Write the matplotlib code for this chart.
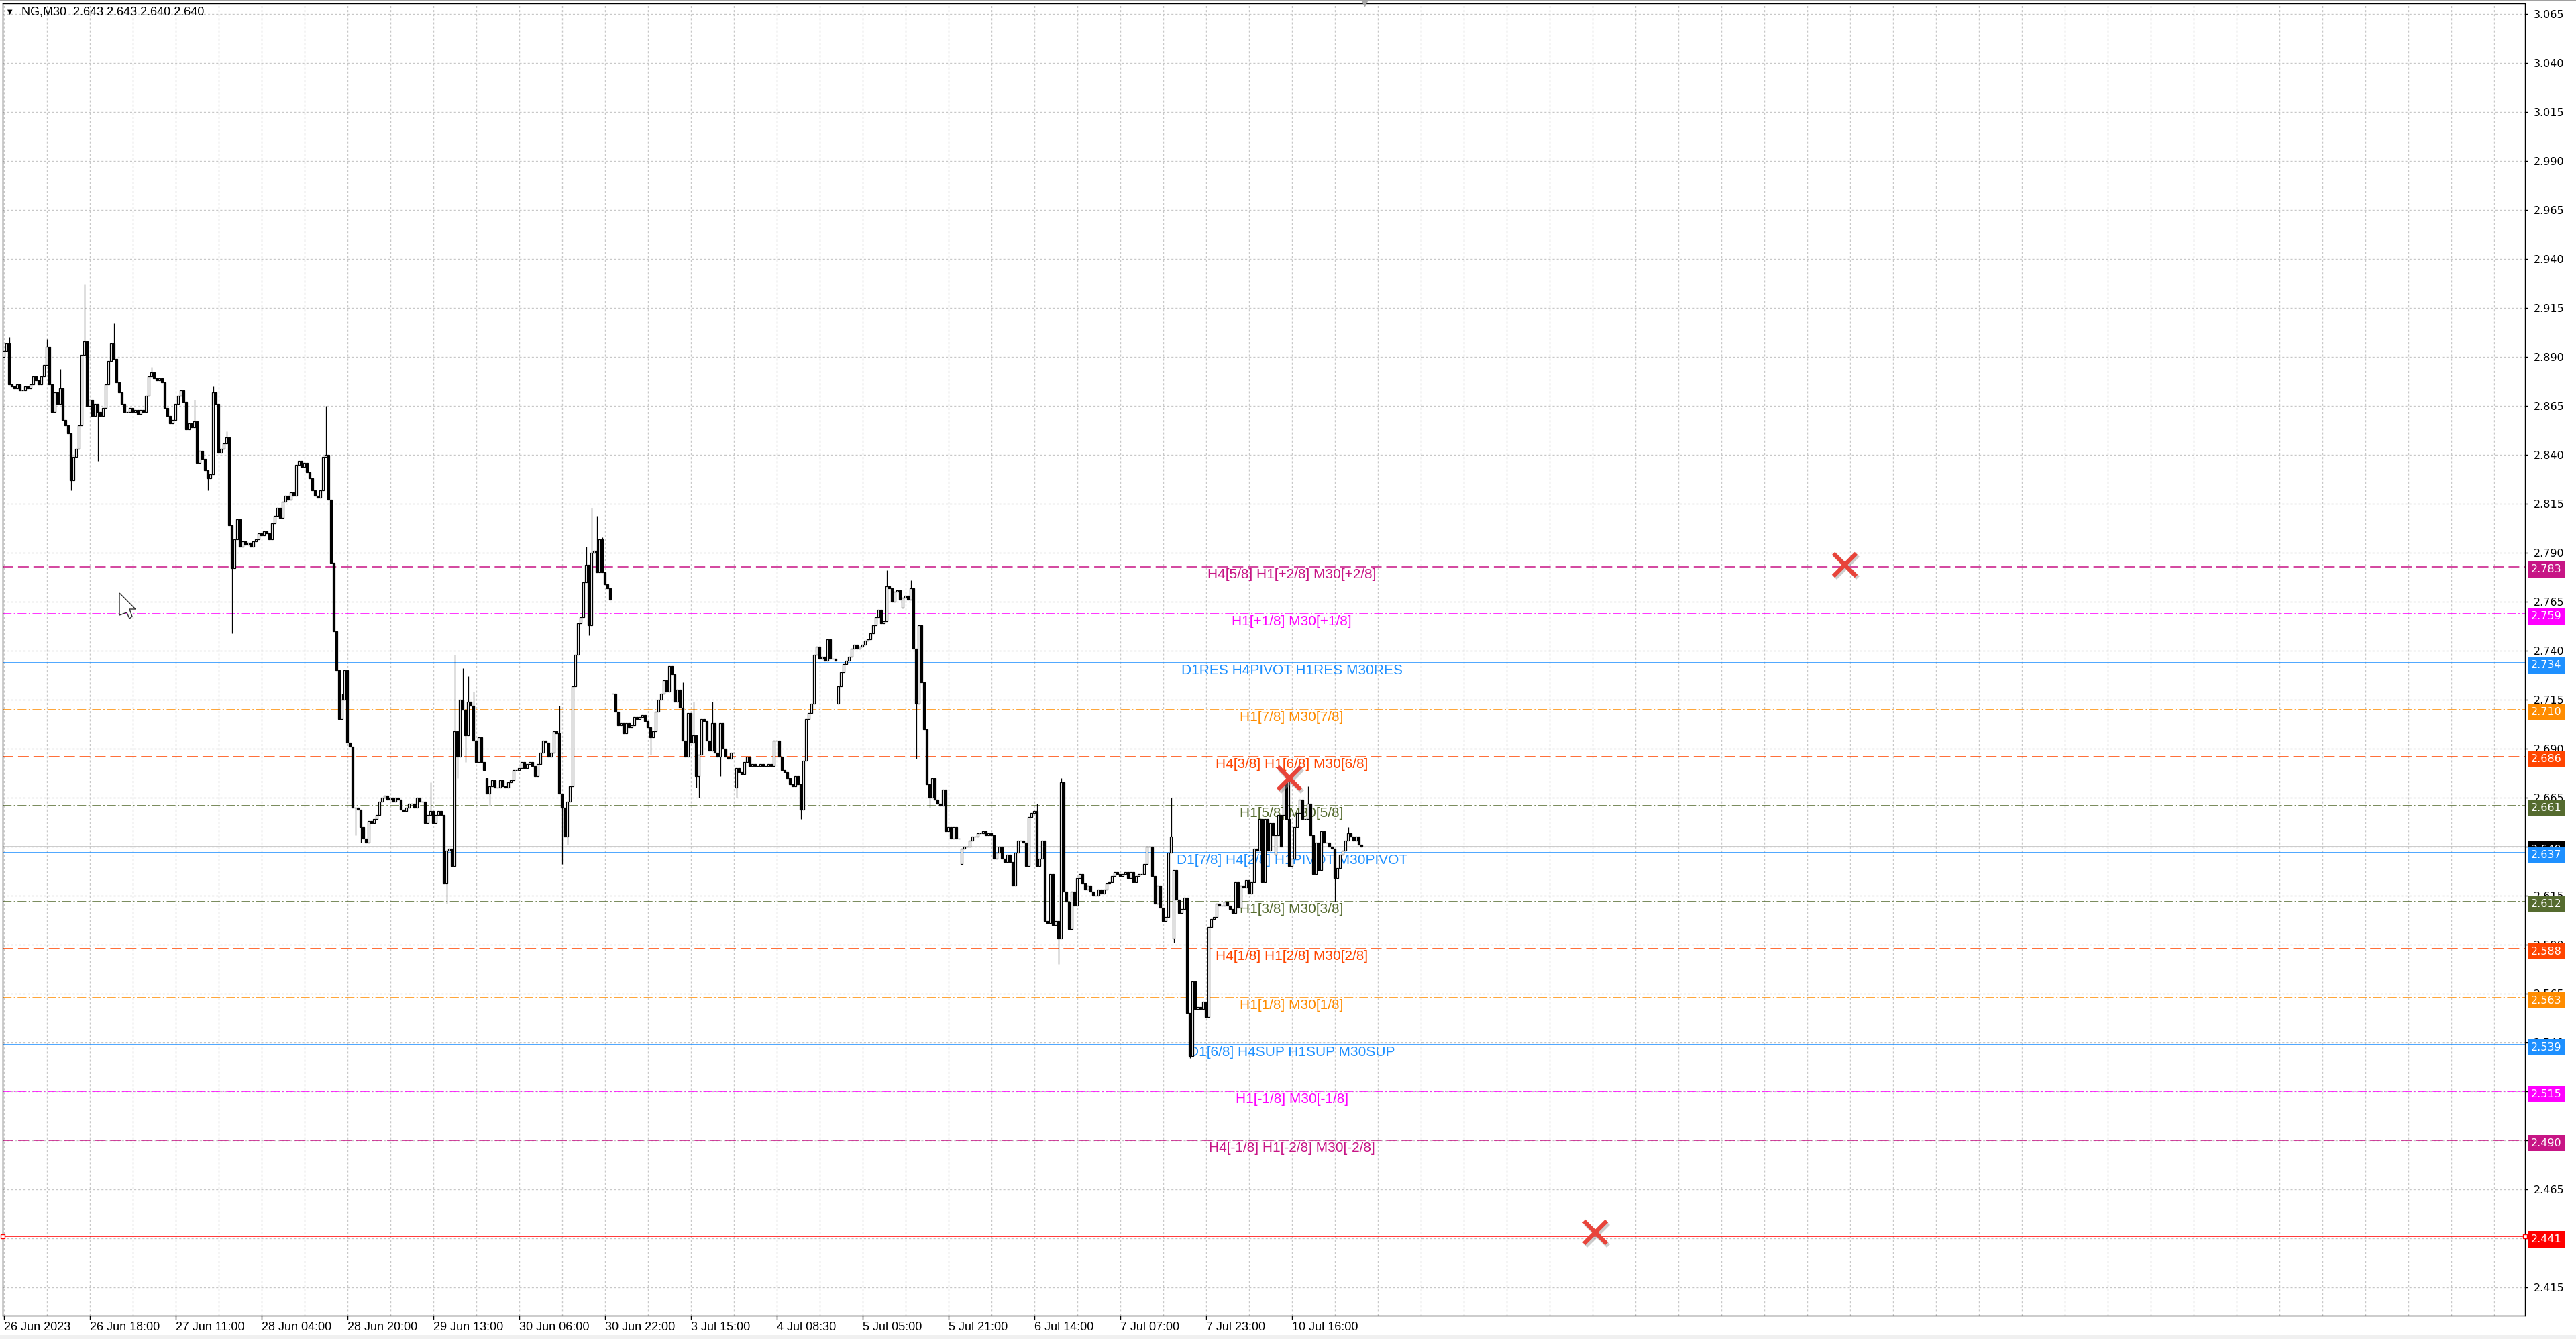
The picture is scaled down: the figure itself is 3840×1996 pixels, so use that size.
import matplotlib
matplotlib.use('Agg')
import matplotlib.pyplot as plt
import matplotlib.transforms as mtransforms
import numpy as np

plt.rcParams['font.family'] = ['Liberation Sans', 'DejaVu Sans']
plt.rcParams['lines.scale_dashes'] = False

symbol_title = 'NG,M30  2.643 2.643 2.640 2.640'

# M30 closes, one per bar
closes = [
    2.893, 2.897, 2.876, 2.875, 2.874, 2.876, 2.873, 2.873, 2.875, 2.874,
    2.876, 2.880, 2.878, 2.876, 2.880, 2.886, 2.895, 2.876, 2.862, 2.872,
    2.866, 2.874, 2.858, 2.855, 2.851, 2.827, 2.839, 2.843, 2.855, 2.891,
    2.898, 2.865, 2.868, 2.860, 2.866, 2.862, 2.860, 2.864, 2.876, 2.888,
    2.897, 2.889, 2.877, 2.872, 2.866, 2.862, 2.862, 2.864, 2.862, 2.863,
    2.861, 2.863, 2.862, 2.870, 2.880, 2.882, 2.879, 2.878, 2.879, 2.877,
    2.864, 2.860, 2.856, 2.858, 2.866, 2.870, 2.873, 2.867, 2.853, 2.856,
    2.854, 2.857, 2.836, 2.842, 2.838, 2.832, 2.828, 2.830, 2.872, 2.866,
    2.841, 2.843, 2.846, 2.849, 2.804, 2.782, 2.797, 2.807, 2.793, 2.796,
    2.794, 2.795, 2.793, 2.796, 2.797, 2.800, 2.799, 2.801, 2.800, 2.797,
    2.805, 2.809, 2.813, 2.808, 2.816, 2.819, 2.817, 2.821, 2.819, 2.835,
    2.837, 2.834, 2.836, 2.831, 2.828, 2.822, 2.819, 2.818, 2.822, 2.839,
    2.840, 2.817, 2.785, 2.750, 2.730, 2.705, 2.715, 2.730, 2.693, 2.691,
    2.660, 2.660, 2.659, 2.650, 2.644, 2.642, 2.653, 2.652, 2.654, 2.656,
    2.663, 2.665, 2.666, 2.664, 2.665, 2.663, 2.665, 2.664, 2.659, 2.658,
    2.660, 2.662, 2.662, 2.660, 2.665, 2.663, 2.663, 2.652, 2.656, 2.658,
    2.652, 2.656, 2.658, 2.656, 2.621, 2.638, 2.639, 2.630, 2.699, 2.686,
    2.715, 2.710, 2.697, 2.714, 2.712, 2.694, 2.683, 2.696, 2.683, 2.679,
    2.667, 2.671, 2.674, 2.670, 2.670, 2.674, 2.671, 2.670, 2.673, 2.674,
    2.679, 2.679, 2.680, 2.683, 2.680, 2.682, 2.683, 2.681, 2.676, 2.682,
    2.688, 2.694, 2.693, 2.686, 2.688, 2.699, 2.698, 2.667, 2.660, 2.645,
    2.663, 2.671, 2.722, 2.738, 2.754, 2.757, 2.775, 2.784, 2.753, 2.790,
    2.791, 2.780, 2.797, 2.780, 2.774, 2.772, 2.766, 2.718, 2.709, 2.702,
    2.703, 2.698, 2.703, 2.701, 2.702, 2.706, 2.705, 2.706, 2.707, 2.704,
    2.701, 2.696, 2.699, 2.709, 2.715, 2.718, 2.725, 2.719, 2.732, 2.728,
    2.714, 2.720, 2.711, 2.694, 2.686, 2.708, 2.693, 2.697, 2.676, 2.687,
    2.705, 2.704, 2.694, 2.689, 2.703, 2.688, 2.686, 2.703, 2.690, 2.686,
    2.685, 2.688, 2.688, 2.680, 2.678, 2.677, 2.683, 2.686, 2.681, 2.682,
    2.681, 2.681, 2.682, 2.681, 2.681, 2.682, 2.681, 2.694, 2.694, 2.686,
    2.679, 2.678, 2.675, 2.672, 2.671, 2.676, 2.672, 2.659, 2.684, 2.705,
    2.708, 2.713, 2.738, 2.742, 2.736, 2.737, 2.735, 2.746, 2.736, 2.736,
    2.735, 2.722, 2.729, 2.733, 2.735, 2.737, 2.741, 2.743, 2.741, 2.742,
    2.743, 2.745, 2.746, 2.749, 2.753, 2.757, 2.761, 2.754, 2.755, 2.773,
    2.772, 2.765, 2.770, 2.771, 2.766, 2.767, 2.768, 2.766, 2.772, 2.741,
    2.713, 2.753, 2.724, 2.700, 2.672, 2.665, 2.675, 2.664, 2.662, 2.661,
    2.669, 2.648, 2.650, 2.644, 2.650, 2.644, 2.644, 2.639, 2.640, 2.640,
    2.643, 2.645, 2.645, 2.647, 2.647, 2.648, 2.646, 2.647, 2.646, 2.634,
    2.637, 2.640, 2.634, 2.632, 2.636, 2.632, 2.620, 2.637, 2.643, 2.643,
    2.642, 2.630, 2.655, 2.657, 2.658, 2.630, 2.634, 2.643, 2.602, 2.601,
    2.626, 2.600, 2.602, 2.593, 2.673, 2.617, 2.612, 2.598, 2.617, 2.610,
    2.624, 2.626, 2.621, 2.618, 2.620, 2.617, 2.615, 2.615, 2.618, 2.616,
    2.618, 2.621, 2.622, 2.625, 2.627, 2.626, 2.625, 2.626, 2.627, 2.624,
    2.627, 2.622, 2.625, 2.626, 2.626, 2.631, 2.640, 2.640, 2.625, 2.611,
    2.620, 2.609, 2.602, 2.604, 2.637, 2.645, 2.628, 2.613, 2.606, 2.608,
    2.614, 2.555, 2.533, 2.571, 2.557, 2.558, 2.557, 2.561, 2.553, 2.599,
    2.603, 2.604, 2.611, 2.610, 2.610, 2.612, 2.610, 2.608, 2.606, 2.622,
    2.609, 2.620, 2.619, 2.623, 2.616, 2.622, 2.639, 2.638, 2.654, 2.622,
    2.654, 2.638, 2.652, 2.646, 2.646, 2.656, 2.640, 2.673, 2.654, 2.630,
    2.634, 2.650, 2.657, 2.664, 2.654, 2.654, 2.662, 2.646, 2.626, 2.642,
    2.628, 2.648, 2.642, 2.642, 2.640, 2.639, 2.624, 2.629, 2.636, 2.638,
    2.643, 2.647, 2.645, 2.643, 2.645, 2.641, 2.640,
]

# bars whose open is not the previous close (price gaps)
open_gaps = {0: 2.890, 180: 2.675, 227: 2.718, 273: 2.670, 311: 2.713,
             335: 2.762, 357: 2.631, 436: 2.593, 474: 2.636, 477: 2.656}

# wicks that stick out of the body
wick_highs = {2: 2.900, 16: 2.899, 21: 2.884, 30: 2.927, 41: 2.907, 55: 2.885,
              71: 2.868, 78: 2.875, 83: 2.852, 120: 2.865, 126: 2.718, 159: 2.673,
              168: 2.738, 171: 2.731, 173: 2.727, 175: 2.719, 207: 2.712, 217: 2.793,
              219: 2.813, 221: 2.809, 223: 2.798, 253: 2.724, 257: 2.714, 264: 2.714,
              329: 2.781, 338: 2.776, 385: 2.662, 394: 2.675, 435: 2.665, 479: 2.674,
              486: 2.671, 501: 2.650}
wick_lows = {25: 2.822, 35: 2.837, 76: 2.822, 85: 2.749, 131: 2.646, 133: 2.642,
             165: 2.611, 169: 2.675, 172: 2.683, 181: 2.661, 208: 2.631, 210: 2.641,
             218: 2.748, 241: 2.687, 258: 2.670, 259: 2.665, 267: 2.676, 273: 2.665,
             297: 2.654, 340: 2.685, 345: 2.660, 393: 2.580, 436: 2.591, 442: 2.532,
             496: 2.612}

time_labels = ['26 Jun 2023', '26 Jun 18:00', '27 Jun 11:00', '28 Jun 04:00',
               '28 Jun 20:00', '29 Jun 13:00', '30 Jun 06:00', '30 Jun 22:00',
               '3 Jul 15:00', '4 Jul 08:30', '5 Jul 05:00', '5 Jul 21:00',
               '6 Jul 14:00', '7 Jul 07:00', '7 Jul 23:00', '10 Jul 16:00']
bars_per_label = 32
bars_per_grid = 16

level_prices = [2.783, 2.759, 2.734, 2.710, 2.686, 2.661, 2.637,
                2.612, 2.588, 2.563, 2.539, 2.515, 2.490]
level_texts = ['H4[5/8] H1[+2/8] M30[+2/8]', 'H1[+1/8] M30[+1/8]',
               'D1RES H4PIVOT H1RES M30RES', 'H1[7/8] M30[7/8]',
               'H4[3/8] H1[6/8] M30[6/8]', 'H1[5/8] M30[5/8]',
               'D1[7/8] H4[2/8] H1PIVOT M30PIVOT', 'H1[3/8] M30[3/8]',
               'H4[1/8] H1[2/8] M30[2/8]', 'H1[1/8] M30[1/8]',
               'D1[6/8] H4SUP H1SUP M30SUP', 'H1[-1/8] M30[-1/8]',
               'H4[-1/8] H1[-2/8] M30[-2/8]']
level_colors = ['#C71585', '#FF00FF', '#1E90FF', '#FF8C00', '#FF4500', '#556B2F',
                '#1E90FF', '#556B2F', '#FF4500', '#FF8C00', '#1E90FF', '#FF00FF',
                '#C71585']
level_styles = ['dash', 'dashdot', 'solid', 'dashdot', 'dash', 'dashdot', 'solid',
                'dashdot', 'dash', 'dashdot', 'solid', 'dashdot', 'dash']
label_bar = 480

bid_price = 2.640
target_price = 2.441
cross_bars = [686, 479, 593]
cross_prices = [2.784, 2.675, 2.443]

y_min, y_max = 2.4006, 3.0707
tick_first, tick_last, tick_step = 2.415, 3.065, 0.025

DASHES = {'dash': (0, (11.5, 5)), 'dashdot': (0, (9.5, 2.5, 1.5, 2.5)), 'solid': '-'}

# mouse pointer left on the screenshot, in screen pixels
cursor_px = [(178, 884), (202, 908), (193, 908), (197, 919), (193, 922),
             (189, 913), (178, 917)]


def draw_candles(ax):
    n = len(closes)
    x = np.arange(n)
    c = np.array(closes)
    o = np.array([open_gaps.get(i, closes[i - 1] if i > 0 else closes[0]) for i in range(n)])
    hi = np.array([max(o[i], c[i], wick_highs.get(i, 0)) for i in range(n)])
    lo = np.array([min(o[i], c[i], wick_lows.get(i, 99)) for i in range(n)])
    ax.vlines(x, lo, hi, color='black', linewidth=0.9, zorder=3)
    up = c >= o
    bottom = np.minimum(o, c)
    height = np.abs(c - o)
    ax.bar(x[up], height[up], bottom=bottom[up], width=0.7, facecolor='white',
           edgecolor='black', linewidth=0.9, zorder=4)
    ax.bar(x[~up], height[~up], bottom=bottom[~up], width=0.7, facecolor='black',
           edgecolor='black', linewidth=0.9, zorder=4)
    return n


def price_box(ax, price, color):
    ax.annotate(f'{price:.3f}', xy=(1, price), xycoords=('axes fraction', 'data'),
                xytext=(6.5, -3), textcoords='offset points', ha='left', va='center',
                color='white', fontsize=11.5, family='DejaVu Sans',
                bbox=dict(boxstyle='square,pad=0.3', fc=color, ec='none'),
                annotation_clip=False, zorder=6)


fig = plt.figure(figsize=(38.4, 19.96), dpi=100)
fig.patch.set_facecolor('white')
ax = fig.add_axes([4 / 3840, 35 / 1996, 3760 / 3840, 1956.5 / 1996])
ax.set_facecolor('white')

n_bars = draw_candles(ax)

ax.set_xlim(-0.4, 939.6)
ax.set_ylim(y_min, y_max)

# levels
for price, text, color, style in zip(level_prices, level_texts, level_colors, level_styles):
    ax.axhline(price, color=color, linestyle=DASHES[style], linewidth=1.1, zorder=1.5)
    ax.annotate(text, xy=(label_bar, price), xytext=(0, -8.3), textcoords='offset points',
                ha='center', va='center', color=color, fontsize=15, zorder=2)

ax.axhline(bid_price, color='#C0C0C0', linewidth=1.1, zorder=1.4)
ax.axhline(target_price, color='#FF0000', linewidth=1.1, zorder=1.5)
ax.plot([0, 1], [target_price, target_price], transform=ax.get_yaxis_transform(),
        linestyle='none', marker='s', ms=4, mfc='white', mec='#FF0000', mew=1,
        clip_on=False, zorder=5)

# crosses with a soft shadow
shadow = mtransforms.offset_copy(ax.transData, fig=fig, x=2, y=-2, units='points')
ax.plot(cross_bars, cross_prices, linestyle='none', marker='x', ms=25, mew=5,
        color='#909090', alpha=0.45, transform=shadow, zorder=6)
ax.plot(cross_bars, cross_prices, linestyle='none', marker='x', ms=25, mew=4.5,
        color='#E8443A', zorder=7)

# right price boxes (bid drawn before the pivot so the pivot sits on top)
for price, color in zip(level_prices[:6], level_colors[:6]):
    price_box(ax, price, color)
price_box(ax, bid_price, 'black')
for price, color in zip(level_prices[6:], level_colors[6:]):
    price_box(ax, price, color)
price_box(ax, target_price, '#FF0000')

# axes, ticks, grid
yticks = np.arange(tick_first, tick_last + 0.001, tick_step)
ax.yaxis.tick_right()
ax.set_yticks(yticks)
ax.set_yticklabels([f'{v:.3f}' for v in yticks], fontsize=11.5, family='DejaVu Sans')
ax.tick_params(axis='y', direction='out', length=3, width=1, pad=6.5, colors='black')

label_pos = [i * bars_per_label for i in range(len(time_labels))]
ax.set_xticks(label_pos)
ax.set_xticklabels(time_labels, fontsize=13, ha='left')
ax.set_xticks(np.arange(0, 940, bars_per_grid), minor=True)
ax.tick_params(axis='x', which='major', direction='out', length=4, width=1, pad=2.5)
ax.tick_params(axis='x', which='minor', length=0)

grid_kw = dict(color='#C8C8C8', linestyle=(0, (2.2, 2.2)), linewidth=1.0)
ax.grid(True, axis='y', which='major', **grid_kw)
ax.grid(True, axis='x', which='both', **grid_kw)
ax.set_axisbelow(True)

for spine in ax.spines.values():
    spine.set_color('black')
    spine.set_linewidth(1.0)

# symbol header and chart shift mark
ax.annotate('\u25BC', xy=(0, 1), xycoords='axes fraction', xytext=(8, -9.7),
            textcoords='offset points', ha='center', va='center', fontsize=7,
            family='DejaVu Sans', color='black')
ax.annotate(symbol_title, xy=(0, 1), xycoords='axes fraction', xytext=(20, -9.7),
            textcoords='offset points', ha='left', va='center', fontsize=13,
            color='black')
ax.plot([n_bars], [1], transform=ax.get_xaxis_transform(), marker='v', ms=6,
        color='#A8A8A8', clip_on=False, zorder=8)

# pointer
cursor = plt.Polygon([(px / 3840, 1 - py / 1996) for px, py in cursor_px],
                     closed=True, transform=fig.transFigure, facecolor='white',
                     edgecolor='#303030', linewidth=1.0, zorder=20)
fig.add_artist(cursor)

fig.add_artist(plt.Rectangle((0, 0), 1, 6 / 1996, transform=fig.transFigure,
                             facecolor='#F0F0F0', edgecolor='none'))
fig.add_artist(plt.Rectangle((0, 1 - 2 / 1996), 1, 2 / 1996, transform=fig.transFigure,
                             facecolor='#A0A0A0', edgecolor='none'))

fig.savefig('out.png', dpi=100, facecolor='white')
